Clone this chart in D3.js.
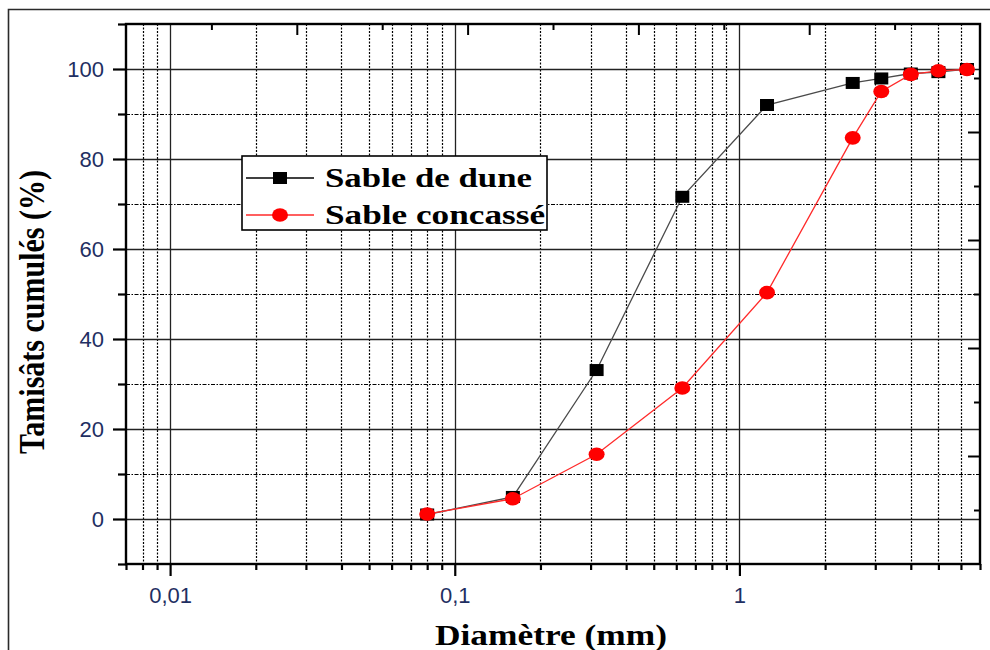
<!DOCTYPE html>
<html>
<head>
<meta charset="utf-8">
<script src="https://cdn.jsdelivr.net/npm/d3@7"></script>
<style>
  html, body { margin: 0; padding: 0; background: #fff; }
  svg { display: block; }
</style>
</head>
<body>
<svg id="chart" width="990" height="650"></svg>
<script>
// Sieve sizes (mm) and cumulative passing (%)
const diametres = [0.08, 0.16, 0.315, 0.63, 1.25, 2.5, 3.15, 4, 5, 6.3];
const sableDune = [1.0, 4.9, 33.1, 71.6, 92.0, 96.9, 97.9, 99.0, 99.3, 100];
const sableConcasse = [1.1, 4.5, 14.4, 29.1, 50.3, 84.7, 95.0, 98.8, 99.6, 99.9];

const seriesNames = ["Sable de dune", "Sable concassé"];
const xMajorTicks = [0.01, 0.1, 1];
const xTickLabels = ["0,01", "0,1", "1"];
const yMajorTicks = [0, 20, 40, 60, 80, 100];
const yTickLabels = ["0", "20", "40", "60", "80", "100"];
const yMinorTicks = [-10, 10, 30, 50, 70, 90, 110];
const xTitle = "Diamètre (mm)";
const yTitle = "Tamisâts cumulés (%)";

const svg = d3.select("#chart");
const L = 126, R = 980, T = 24, B = 564;

const x = d3.scaleLog().domain([0.007, 7]).range([L, R]);
const y = d3.scaleLinear().domain([-10, 110]).range([B, T]);
// secondary (top / right) frame ticks
const xTop = d3.scaleLinear().domain([0, 10]).range([L, R]);
const yRight = d3.scaleLinear().domain([0, 10]).range([B, T]);

// minor log ticks: 2..9 within each decade, inside the domain
const xMinorTicks = [];
[0.001, 0.01, 0.1, 1].forEach(d => {
  for (let k = 2; k <= 9; k++) {
    const v = +(k * d).toPrecision(3);
    if (v >= 0.007 && v <= 7) xMinorTicks.push(v);
  }
});

// outer page border
svg.append("path")
  .attr("d", "M8.5,650 L8.5,9.5 L990,9.5")
  .attr("fill", "none").attr("stroke", "#2a2a2a").attr("stroke-width", 1.6);

// grid
const grid = svg.append("g");
grid.selectAll(".vminor").data(xMinorTicks.filter(v => x(v) > L + 1 && x(v) < R - 1)).join("line")
  .attr("x1", d => Math.round(x(d)) + 0.5).attr("x2", d => Math.round(x(d)) + 0.5)
  .attr("y1", T).attr("y2", B)
  .attr("stroke", "#000").attr("stroke-width", 1.2).attr("stroke-dasharray", "2,1.5");
grid.selectAll(".hminor").data(yMinorTicks.filter(v => v > -10 && v < 110)).join("line")
  .attr("x1", L).attr("x2", R)
  .attr("y1", d => Math.round(y(d)) + 0.5).attr("y2", d => Math.round(y(d)) + 0.5)
  .attr("stroke", "#000").attr("stroke-width", 1.2).attr("stroke-dasharray", "4,1.5,1.5,1.5");
grid.selectAll(".vmajor").data(xMajorTicks).join("line")
  .attr("x1", d => Math.round(x(d)) + 0.5).attr("x2", d => Math.round(x(d)) + 0.5)
  .attr("y1", T).attr("y2", B)
  .attr("stroke", "#222").attr("stroke-width", 1.3);
grid.selectAll(".hmajor").data(yMajorTicks).join("line")
  .attr("x1", L).attr("x2", R)
  .attr("y1", d => Math.round(y(d)) + 0.5).attr("y2", d => Math.round(y(d)) + 0.5)
  .attr("stroke", "#222").attr("stroke-width", 1.3);

// axes
const labelColor = "#1f2f62";
const axisFont = "'Liberation Sans', Arial, sans-serif";

const bottomMinor = d3.axisBottom(x).tickValues(xMinorTicks).tickSize(6).tickFormat("");
const bottomMajor = d3.axisBottom(x).tickValues(xMajorTicks).tickSize(12)
  .tickFormat((d, i) => xTickLabels[i]).tickPadding(11);
const leftMinor = d3.axisLeft(y).tickValues(yMinorTicks).tickSize(8).tickFormat("");
const leftMajor = d3.axisLeft(y).tickValues(yMajorTicks).tickSize(13)
  .tickFormat((d, i) => yTickLabels[i]).tickPadding(9);
const topAxis = d3.axisTop(xTop).tickValues([1, 2, 3, 4, 5, 6, 7, 8, 9])
  .tickSize(0).tickFormat("");
const rightAxis = d3.axisRight(yRight).tickValues([1, 2, 3, 4, 5, 6, 7, 8, 9])
  .tickSize(0).tickFormat("");

function styleAxis(g) {
  g.select(".domain").remove();
  g.selectAll(".tick line").attr("stroke", "#000").attr("stroke-width", 2.2);
  g.selectAll("text").attr("fill", labelColor).attr("font-family", axisFont)
    .attr("font-size", 22);
}

svg.append("g").attr("transform", `translate(0,${B})`).call(bottomMinor).call(styleAxis);
svg.append("g").attr("transform", `translate(0,${B})`).call(bottomMajor).call(styleAxis)
  .selectAll("text").attr("dy", "0.72em");
svg.append("g").attr("transform", `translate(${L},0)`).call(leftMinor).call(styleAxis);
svg.append("g").attr("transform", `translate(${L},0)`).call(leftMajor).call(styleAxis);

// inward ticks on top and right frame edges
const topG = svg.append("g").attr("transform", `translate(0,${T})`).call(topAxis);
topG.select(".domain").remove();
topG.selectAll(".tick line")
  .attr("y2", d => d % 2 === 0 ? 11 : 6)
  .attr("stroke", "#000").attr("stroke-width", 2);
const rightG = svg.append("g").attr("transform", `translate(${R},0)`).call(rightAxis);
rightG.select(".domain").remove();
rightG.selectAll(".tick line")
  .attr("x2", d => d % 2 === 0 ? -12 : -6)
  .attr("stroke", "#000").attr("stroke-width", 2);

// frame
svg.append("rect")
  .attr("x", L).attr("y", T).attr("width", R - L).attr("height", B - T)
  .attr("fill", "none").attr("stroke", "#000").attr("stroke-width", 2.4);

// series
const seriesData = [
  { name: seriesNames[0], values: sableDune, line: "#4a4a4a", fill: "#000", shape: "square" },
  { name: seriesNames[1], values: sableConcasse, line: "#ff2a2a", fill: "#ff0000", shape: "circle" }
];

const lineGen = d3.line().x(d => x(d[0])).y(d => y(d[1]));

function drawMarker(g, shape, color, cx, cy) {
  if (shape === "square") {
    g.append("rect").attr("x", cx - 7).attr("y", cy - 6).attr("width", 14).attr("height", 12)
      .attr("fill", color);
  } else {
    g.append("ellipse").attr("cx", cx).attr("cy", cy).attr("rx", 8).attr("ry", 6.8)
      .attr("fill", color);
  }
}

seriesData.forEach(s => {
  const pts = diametres.map((d, i) => [d, s.values[i]]);
  const g = svg.append("g");
  g.append("path").datum(pts).attr("d", lineGen)
    .attr("fill", "none").attr("stroke", s.line).attr("stroke-width", 1.3);
  pts.forEach(p => drawMarker(g, s.shape, s.fill, x(p[0]), y(p[1])));
});

// legend
const lg = svg.append("g");
lg.append("rect").attr("x", 242).attr("y", 156).attr("width", 305).attr("height", 74)
  .attr("fill", "#fff").attr("stroke", "#000").attr("stroke-width", 1.6);
const legendWidths = [207, 220];
seriesData.forEach((s, i) => {
  const cy = 178 + i * 37;
  lg.append("line").attr("x1", 246).attr("x2", 314).attr("y1", cy).attr("y2", cy)
    .attr("stroke", i === 0 ? "#000" : "#ff2a2a").attr("stroke-width", 1.4);
  drawMarker(lg, s.shape, s.fill, 280, cy);
  lg.append("text").attr("x", 325).attr("y", cy + 9)
    .attr("font-family", "'Liberation Serif', 'Times New Roman', serif")
    .attr("font-weight", "bold").attr("font-size", 28).attr("fill", "#000")
    .attr("textLength", legendWidths[i]).attr("lengthAdjust", "spacingAndGlyphs")
    .text(s.name);
});

// axis titles
svg.append("text")
  .attr("x", 435).attr("y", 645)
  .attr("font-family", "'Liberation Serif', 'Times New Roman', serif")
  .attr("font-weight", "bold").attr("font-size", 30).attr("fill", "#000")
  .attr("textLength", 232).attr("lengthAdjust", "spacingAndGlyphs")
  .text(xTitle);

svg.append("text")
  .attr("transform", "translate(44,312) scale(1.2,1) rotate(-90)")
  .attr("text-anchor", "middle")
  .attr("font-family", "'Liberation Serif', 'Times New Roman', serif")
  .attr("font-weight", "bold").attr("font-size", 30).attr("fill", "#000")
  .text(yTitle);
</script>
</body>
</html>
